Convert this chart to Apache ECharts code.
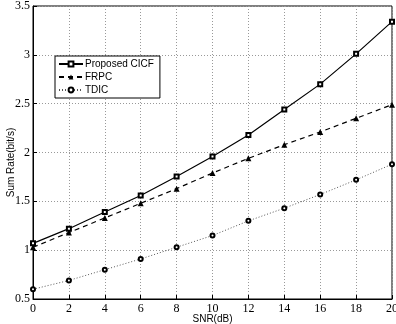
<!DOCTYPE html>
<html lang="en">
<head>
  <meta charset="UTF-8">
  <title>Sum Rate vs SNR</title>
  <style>
    html, body { margin: 0; padding: 0; background: #fff; }
  </style>
</head>
<body>
  <div class="main" style="width: 396px;height:324px;"></div>

  <script src="https://cdn.jsdelivr.net/npm/echarts@6/dist/echarts.min.js"></script>
  <script>
    const snr = [0, 2, 4, 6, 8, 10, 12, 14, 16, 18, 20]
    const cicf = [1.07, 1.22, 1.39, 1.56, 1.755, 1.96, 2.18, 2.44, 2.70, 3.01, 3.34]
    const frpc = [1.03, 1.18, 1.33, 1.48, 1.63, 1.79, 1.94, 2.08, 2.21, 2.35, 2.49]
    const tdic = [0.60, 0.69, 0.80, 0.91, 1.03, 1.15, 1.30, 1.43, 1.57, 1.72, 1.88]
    const names = ['Proposed CICF', 'FRPC', 'TDIC']

    const pairs = arr => arr.map((v, i) => [snr[i], v])

    var myChart = echarts.init(document.querySelector('.main'))

    const tickFont = { fontFamily: 'Liberation Serif', fontSize: 12, color: '#000' }
    const gridLine = { show: true, lineStyle: { color: '#999', type: [1, 2], width: 1 } }

    var option = {
      animation: false,
      grid: {
        left: 33, right: 4, top: 6, bottom: 25,
        containLabel: false, outerBoundsMode: 'none',
        show: true, borderColor: '#000', borderWidth: 1
      },
      legend: {
        orient: 'vertical',
        left: 55, top: 56,
        width: 99,
        padding: [3, 6, 3, 3],
        itemGap: 3,
        itemWidth: 24, itemHeight: 6,
        backgroundColor: '#fff',
        borderColor: '#000', borderWidth: 1, borderRadius: 0,
        textStyle: { fontFamily: 'Liberation Sans', fontSize: 10, color: '#000', padding: [0, 0, 0, -3] },
        data: names
      },
      xAxis: {
        type: 'value', min: 0, max: 20, interval: 2,
        name: 'SNR(dB)', nameLocation: 'middle', nameGap: 15, nameMoveOverlap: false,
        nameTextStyle: { fontFamily: 'Liberation Sans', fontSize: 10, color: '#000' },
        axisLine: { lineStyle: { color: '#000' } },
        axisTick: { inside: true, length: 4, lineStyle: { color: '#000' } },
        axisLabel: Object.assign({ margin: 4 }, tickFont),
        splitLine: gridLine
      },
      yAxis: {
        type: 'value', min: 0.5, max: 3.5, interval: 0.5,
        name: 'Sum Rate(bit/s)', nameLocation: 'middle', nameGap: 17, nameMoveOverlap: false,
        nameTextStyle: { fontFamily: 'Liberation Sans', fontSize: 10, color: '#000', padding: [0, 20, 0, 0] },
        axisLine: { lineStyle: { color: '#000' } },
        axisTick: { inside: true, length: 4, lineStyle: { color: '#000' } },
        axisLabel: Object.assign({ margin: 3 }, tickFont),
        splitLine: gridLine
      },
      series: [
        {
          name: names[0], type: 'line', data: pairs(cicf),
          symbol: 'emptyRect', symbolSize: 4,
          color: '#000',
          lineStyle: { color: '#000', width: 1.2, type: 'solid' },
          itemStyle: { color: '#000', borderColor: '#000', borderWidth: 1.2 }
        },
        {
          name: names[1], type: 'line', data: pairs(frpc),
          symbol: 'triangle', symbolSize: 6,
          color: '#000',
          lineStyle: { color: '#000', width: 1.2, type: [5, 4] },
          itemStyle: { color: '#000' }
        },
        {
          name: names[2], type: 'line', data: pairs(tdic),
          symbol: 'emptyCircle', symbolSize: 4,
          color: '#000',
          lineStyle: { color: '#555', width: 1, type: [1, 2] },
          itemStyle: { color: '#000', borderColor: '#000', borderWidth: 1.2 }
        }
      ]
    }

    myChart.setOption(option)
  </script>
</body>
</html>
